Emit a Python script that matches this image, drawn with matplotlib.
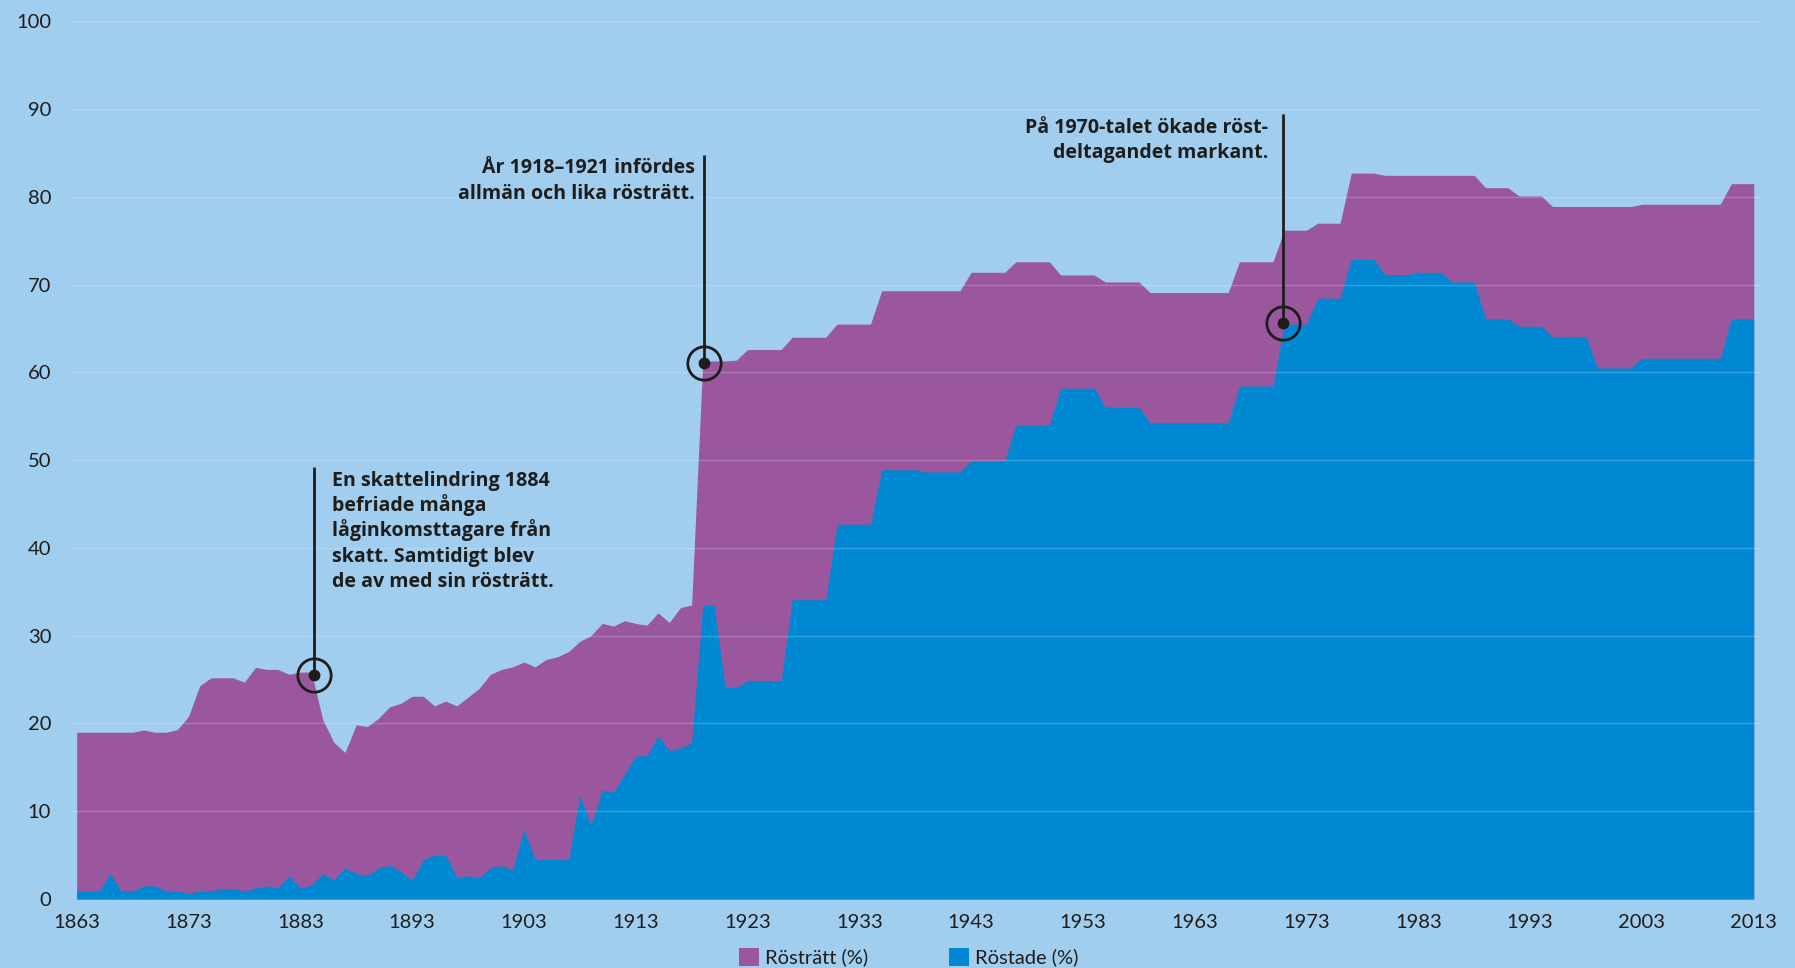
import matplotlib
matplotlib.use("Agg")
import matplotlib.pyplot as plt
from matplotlib.patches import Patch

# ---------------- data ----------------
years = list(range(1863, 2014))

rostratt = [
    19.0, 19.0, 19.0, 19.0, 19.0, 19.0, 19.25, 19.0, 19.0, 19.3,        # 1863-1872
    20.8, 24.3, 25.2, 25.2, 25.2, 24.7, 26.4, 26.15, 26.15, 25.6,      # 1873-1882
    25.85, 25.85, 20.45, 17.85, 16.7, 19.85, 19.65, 20.6, 21.9, 22.3,  # 1883-1892
    23.1, 23.1, 22.0, 22.55, 22.0, 23.0, 24.0, 25.6, 26.15, 26.45,     # 1893-1902
    27.0, 26.45, 27.3, 27.6, 28.2, 29.35, 30.0, 31.4, 31.1, 31.7,      # 1903-1912
    31.4, 31.2, 32.6, 31.5, 33.2, 33.5, 61.3, 61.3, 61.3, 61.4,        # 1913-1922
    62.6, 62.6, 62.6, 62.6, 64.0, 64.0, 64.0, 64.0, 65.5, 65.5,        # 1923-1932
    65.5, 65.5, 69.3, 69.3, 69.3, 69.3, 69.3, 69.3, 69.3, 69.3,        # 1933-1942
    71.4, 71.4, 71.4, 71.4, 72.6, 72.6, 72.6, 72.6, 71.1, 71.1,        # 1943-1952
    71.1, 71.1, 70.3, 70.3, 70.3, 70.3, 69.1, 69.1, 69.1, 69.1,        # 1953-1962
    69.1, 69.1, 69.1, 69.1, 72.6, 72.6, 72.6, 72.6, 76.2, 76.2,        # 1963-1972
    76.2, 77.0, 77.0, 77.0, 82.7, 82.7, 82.7, 82.45, 82.45, 82.45,     # 1973-1982
    82.45, 82.45, 82.45, 82.45, 82.45, 82.45, 81.05, 81.05, 81.05, 80.1,  # 1983-1992
    80.1, 80.1, 78.9, 78.9, 78.9, 78.9, 78.9, 78.9, 78.9, 78.9,        # 1993-2002
    79.15, 79.15, 79.15, 79.15, 79.15, 79.15, 79.15, 79.15, 81.5, 81.5,  # 2003-2012
    81.5,                                                              # 2013
]

rostade = [
    0.9, 0.9, 0.9, 2.9, 0.9, 0.9, 1.5, 1.5, 0.9, 0.9,                  # 1863-1872
    0.65, 0.9, 0.9, 1.15, 1.15, 0.9, 1.25, 1.5, 1.25, 2.65,            # 1873-1882
    1.25, 1.6, 2.9, 2.15, 3.55, 2.9, 2.7, 3.55, 3.85, 3.1,             # 1883-1892
    2.15, 4.45, 5.0, 5.0, 2.45, 2.65, 2.4, 3.55, 3.8, 3.3,             # 1893-1902
    7.95, 4.5, 4.5, 4.5, 4.5, 11.8, 8.4, 12.4, 12.2, 14.2,             # 1903-1912
    16.3, 16.3, 18.6, 16.9, 17.2, 17.8, 33.5, 33.5, 24.1, 24.1,        # 1913-1922
    24.9, 24.9, 24.9, 24.9, 34.1, 34.1, 34.1, 34.1, 42.7, 42.7,        # 1923-1932
    42.7, 42.7, 48.9, 48.9, 48.9, 48.9, 48.65, 48.65, 48.65, 48.65,    # 1933-1942
    49.9, 49.9, 49.9, 49.9, 54.0, 54.0, 54.0, 54.0, 58.2, 58.2,        # 1943-1952
    58.2, 58.2, 56.05, 56.05, 56.05, 56.05, 54.25, 54.25, 54.25, 54.25,  # 1953-1962
    54.25, 54.25, 54.25, 54.25, 58.45, 58.45, 58.45, 58.45, 65.5, 65.5,  # 1963-1972
    65.5, 68.45, 68.45, 68.45, 72.9, 72.9, 72.9, 71.15, 71.15, 71.15,  # 1973-1982
    71.4, 71.4, 71.4, 70.3, 70.3, 70.3, 66.1, 66.1, 66.1, 65.25,       # 1983-1992
    65.25, 65.25, 64.05, 64.05, 64.05, 64.05, 60.5, 60.5, 60.5, 60.5,  # 1993-2002
    61.6, 61.6, 61.6, 61.6, 61.6, 61.6, 61.6, 61.6, 66.1, 66.1,        # 2003-2012
    66.1,                                                              # 2013
]

x_ticks = [1863, 1873, 1883, 1893, 1903, 1913, 1923, 1933, 1943, 1953,
           1963, 1973, 1983, 1993, 2003, 2013]
y_ticks = [0, 10, 20, 30, 40, 50, 60, 70, 80, 90, 100]

series_labels = ["Rösträtt (%)", "Röstade (%)"]

notes = [
    # (x of marker, y of marker, top of leader line, text lines, text x, first baseline, align)
    (1884.2, 25.5, 49.2,
     ["En skattelindring 1884", "befriade många", "låginkomsttagare från",
      "skatt. Samtidigt blev", "de av med sin rösträtt."], 1885.81, 47.09, "left"),
    (1919.1, 61.1, 84.8,
     ["År 1918–1921 infördes", "allmän och lika rösträtt."], 1918.31, 82.68, "right"),
    (1970.9, 65.6, 89.4,
     ["På 1970-talet ökade röst-", "deltagandet markant."], 1969.58, 87.31, "right"),
]

# ---------------- style ----------------
BG = "#a1cdef"
PURPLE = "#9b579e"
BLUE = "#0089d2"
TEXT = "#1d1d1b"
plt.rcParams["font.family"] = ["Lato", "DejaVu Sans"]

W, H = 1795, 968
fig = plt.figure(figsize=(W / 100, H / 100), dpi=100, facecolor=BG)
ax = fig.add_axes([72 / W, 69 / H, (1760 - 72) / W, (899 - 21.3) / H])
ax.set_facecolor(BG)

ax.fill_between(years, 0, rostratt, color=PURPLE, lw=0, zorder=1)
ax.fill_between(years, 0, rostade, color=BLUE, lw=0, zorder=1.1)

ax.set_xlim(1862.58, 2013.56)
ax.set_ylim(0, 100)
ax.set_xticks(x_ticks)
ax.set_xticklabels([str(t) for t in x_ticks])
ax.set_yticks(y_ticks)
ax.set_yticklabels([str(t) for t in y_ticks])
ax.tick_params(axis="both", length=0, labelsize=14.5, colors=TEXT)
ax.tick_params(axis="y", pad=15)
ax.tick_params(axis="x", pad=11)
for s in ax.spines.values():
    s.set_visible(False)
ax.set_axisbelow(False)
ax.yaxis.grid(True, color="white", alpha=0.2, lw=1.0)
ax.xaxis.grid(False)

# annotations
line_step = 25.3 / 8.777  # line spacing in data units
for mx, my, top, lines, tx, ty, ha in notes:
    ax.plot([mx, mx], [my, top], color=TEXT, lw=2.0, zorder=5, solid_capstyle="butt")
    ax.plot([mx], [my], marker="o", ms=24, mfc="none", mec=TEXT, mew=2.0, zorder=6)
    ax.plot([mx], [my], marker="o", ms=7.5, mfc=TEXT, mec=TEXT, zorder=7)
    for i, ln in enumerate(lines):
        ax.text(tx, ty - i * line_step, ln, ha=ha, va="baseline",
                fontsize=14.1, fontweight="bold", color=TEXT, zorder=8,
                family=["Open Sans", "DejaVu Sans"])

handles = [Patch(facecolor=PURPLE, edgecolor="none"),
           Patch(facecolor=BLUE, edgecolor="none")]
fig.legend(handles, series_labels, loc="center",
           bbox_to_anchor=(908.5 / W, 1 - 957 / H), ncol=2, frameon=False,
           fontsize=14.5, handlelength=1.0, handleheight=1.0,
           handletextpad=0.3, columnspacing=4.0, labelcolor=TEXT)

fig.savefig("out.png", dpi=100, facecolor=BG)
